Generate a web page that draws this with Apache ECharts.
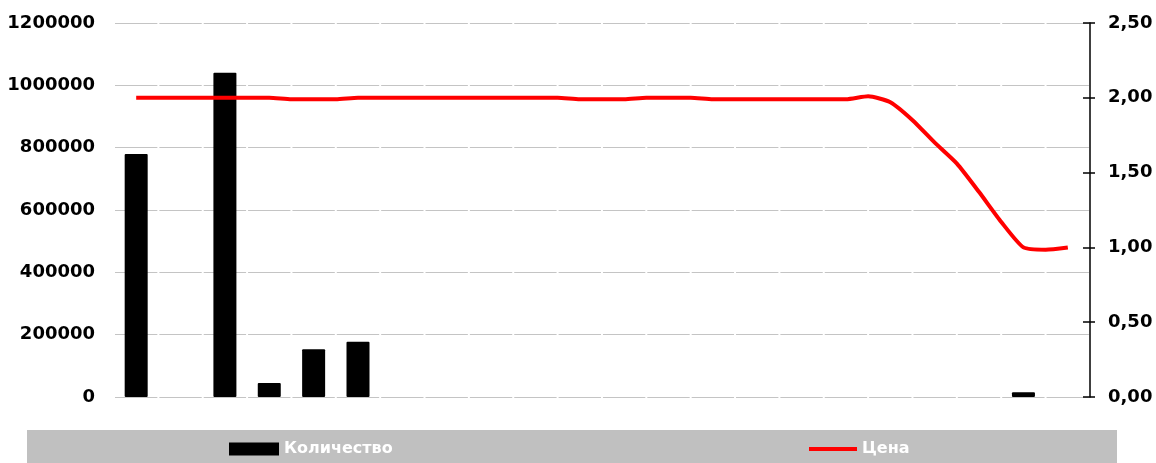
<!DOCTYPE html>
<html>
<head>
<meta charset="utf-8">
<script src="https://cdn.jsdelivr.net/npm/echarts@6/dist/echarts.min.js"></script>
<style>
  html, body { margin: 0; padding: 0; background: #fff; }
  #grafico { width: 1156px; height: 463px; }
</style>
</head>
<body>
<div id="grafico"></div>
<script>
// 22 позиции по оси X (подписи на оси скрыты)
var categorias = [];
for (var i = 0; i < 22; i++) categorias.push(String(i + 1));

// Количество (столбцы), null = нет столбца
var quantidade = [780000, null, 1040000, 45000, 153000, 177000, null, null, null, null,
                  null, null, null, null, null, null, null, null, null, null, 15000, null];

// Цена — точки через пол-шага категории (43 точки)
var preco = [2.00, 2.00, 2.00, 2.00, 2.00, 2.00, 2.00, 1.99, 1.99, 1.99,
             2.00, 2.00, 2.00, 2.00, 2.00, 2.00, 2.00, 2.00, 2.00, 2.00,
             1.99, 1.99, 1.99, 2.00, 2.00, 2.00, 1.99, 1.99, 1.99, 1.99,
             1.99, 1.99, 1.99, 2.01, 1.97, 1.85, 1.70, 1.56, 1.37, 1.17,
             1.00, 0.985, 1.00];

var ticksEsquerda = [0, 200000, 400000, 600000, 800000, 1000000, 1200000];
var ticksDireita = [0, 0.5, 1, 1.5, 2, 2.5];

var pontosPreco = preco.map(function (v, i) { return [i / 2, v]; });

var fonte = { fontFamily: 'DejaVu Sans', fontWeight: 'bold', fontSize: 18, color: '#000' };
var fonteLegenda = { color: '#fff', fontFamily: 'DejaVu Sans', fontWeight: 'bold', fontSize: 16 };

var myChart = echarts.init(document.getElementById('grafico'));

var option = {
    animation: false,
    backgroundColor: '#fff',
    grid: { left: 114, right: 66, top: 23, bottom: 66, outerBoundsMode: 'none' },
    graphic: [{
        type: 'rect',
        shape: { x: 27, y: 430, width: 1090, height: 33 },
        style: { fill: '#c0c0c0' },
        z: -1
    }],
    legend: [{
        data: ['Количество'],
        left: 229, top: 441, padding: 0, itemGap: 0,
        itemWidth: 50, itemHeight: 13, icon: 'rect',
        textStyle: fonteLegenda
    }, {
        data: ['Цена'],
        left: 809, top: 441, padding: 0, itemGap: 0,
        itemWidth: 48, itemHeight: 4, icon: 'rect',
        textStyle: fonteLegenda
    }],
    xAxis: [{
        type: 'category',
        data: categorias,
        axisLine: { show: false },
        axisTick: { show: false },
        axisLabel: { show: false }
    }, {
        type: 'value',
        min: -0.5, max: 21.5,
        show: false
    }],
    yAxis: [{
        type: 'value',
        min: ticksEsquerda[0], max: ticksEsquerda[ticksEsquerda.length - 1], interval: 200000,
        axisLine: { show: false },
        axisTick: { show: false },
        axisLabel: Object.assign({
            margin: 19,
            formatter: function (v) { return String(v); }
        }, fonte),
        splitLine: { lineStyle: { color: '#c4c4c4', width: 1, type: [42.36, 2], dashOffset: -1 } }
    }, {
        type: 'value',
        position: 'right',
        min: ticksDireita[0], max: ticksDireita[ticksDireita.length - 1], interval: 0.5,
        axisLine: { show: true, lineStyle: { color: '#000', width: 1.5 } },
        axisTick: { show: true, inside: true, length: 7, lineStyle: { color: '#000', width: 1.5 } },
        axisLabel: Object.assign({
            margin: 18,
            formatter: function (v) { return v.toFixed(2).replace('.', ','); }
        }, fonte),
        splitLine: { show: false }
    }, {
        type: 'value',
        position: 'right',
        min: ticksDireita[0], max: ticksDireita[ticksDireita.length - 1], interval: 0.5,
        axisLine: { show: false },
        axisTick: { show: true, inside: false, length: 5, lineStyle: { color: '#000', width: 1.5 } },
        axisLabel: { show: false },
        splitLine: { show: false }
    }],
    series: [{
        name: 'Количество',
        type: 'bar',
        data: quantidade,
        barWidth: 23,
        itemStyle: { color: '#000', borderRadius: 1 }
    }, {
        name: 'Цена',
        type: 'line',
        xAxisIndex: 1,
        yAxisIndex: 1,
        data: pontosPreco,
        smooth: 0.2,
        showSymbol: false,
        lineStyle: { color: '#ff0000', width: 4 },
        itemStyle: { color: '#ff0000' }
    }]
};

myChart.setOption(option);
</script>
</body>
</html>
